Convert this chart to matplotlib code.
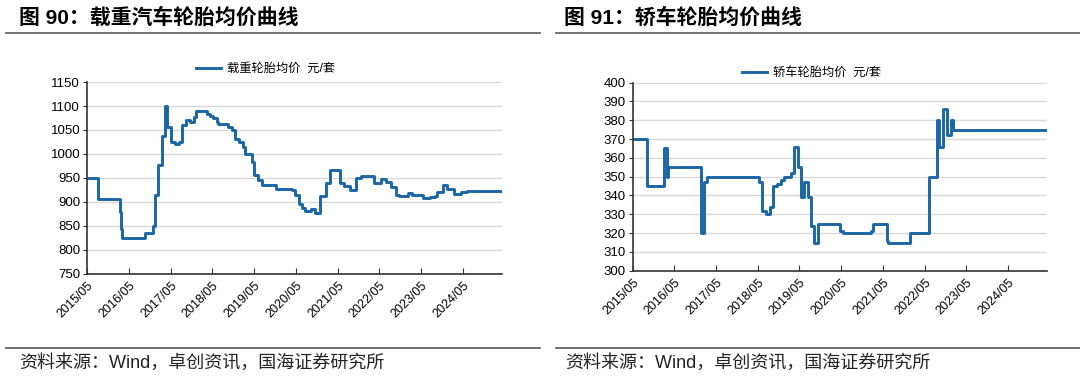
import pandas as pd
import matplotlib
matplotlib.use("Agg")
import matplotlib.pyplot as plt
import matplotlib.dates as mdates
from matplotlib.lines import Line2D

plt.rcParams['font.family'] = ['Liberation Sans', 'Noto Sans CJK SC']

# heavy truck tyre average price (step changes), yuan/set
truck_dates = ['2015-05-01', '2015-08-03', '2016-02-10', '2016-02-21', '2016-03-01', '2016-09-22',
               '2016-11-28', '2016-12-12', '2017-01-11', '2017-02-15', '2017-03-09', '2017-03-29',
               '2017-05-06', '2017-06-10', '2017-07-16', '2017-08-08', '2017-09-15', '2017-10-20',
               '2017-11-19', '2017-12-10', '2018-03-14', '2018-04-12', '2018-05-04', '2018-06-10',
               '2018-06-24', '2018-09-12', '2018-10-20', '2018-11-19', '2018-12-18', '2019-01-24',
               '2019-02-15', '2019-04-13', '2019-05-04', '2019-06-03', '2019-07-09', '2019-11-11',
               '2020-03-28', '2020-04-27', '2020-05-26', '2020-06-25', '2020-07-24', '2020-09-07',
               '2020-10-20', '2020-11-26', '2021-01-16', '2021-02-28', '2021-05-19', '2021-06-25',
               '2021-08-22', '2021-10-13', '2021-11-19', '2022-03-14', '2022-05-12', '2022-06-25',
               '2022-08-12', '2022-09-21', '2022-10-20', '2023-01-06', '2023-02-12', '2023-04-09',
               '2023-05-22', '2023-07-20', '2023-09-03', '2023-09-17', '2023-11-11', '2023-12-14',
               '2024-02-11', '2024-04-16', '2024-06-06', '2024-08-01', '2025-04-12']
truck_vals = [950, 907, 879, 844, 825, 835, 850, 915, 978, 1037, 1100, 1056, 1025, 1020, 1026,
              1060, 1070, 1066, 1077, 1089, 1084, 1079, 1074, 1067, 1062, 1056, 1049, 1032, 1026,
              1015, 999, 983, 956, 945, 935, 928, 926, 915, 896, 888, 882, 885, 878, 912, 940,
              966, 940, 934, 926, 950, 955, 940, 948, 941, 931, 914, 912, 919, 915, 914, 908,
              910, 913, 920, 936, 927, 917, 920, 922, 923, 923]

# passenger car tyre average price (step changes), yuan/set
car_dates = ['2015-05-01', '2015-09-01', '2016-02-03', '2016-03-01', '2016-03-07', '2016-12-19',
             '2017-01-14', '2017-02-13', '2018-05-11', '2018-06-10', '2018-07-09', '2018-08-15',
             '2018-09-14', '2018-10-20', '2018-11-19', '2018-12-18', '2019-02-15', '2019-03-14',
             '2019-04-16', '2019-05-11', '2019-06-14', '2019-07-13', '2019-08-08', '2019-09-07',
             '2019-10-09', '2020-04-16', '2020-05-15', '2021-01-13', '2021-02-01', '2021-06-03',
             '2021-06-17', '2021-12-25', '2022-06-10', '2022-08-15', '2022-09-07', '2022-10-06',
             '2022-11-12', '2022-12-18', '2023-01-06', '2025-04-01']
car_vals = [370, 345, 365, 350, 355, 320, 347, 350, 347, 332, 330, 334, 345, 346, 348, 350, 352,
            366, 355, 339, 347, 339, 324, 315, 325, 321, 320, 321, 325, 316, 315, 320, 350, 380,
            366, 386, 372, 380, 375, 375]

tick_dates = ['2015-05-01', '2016-05-01', '2017-05-01', '2018-05-01', '2019-05-01',
              '2020-05-01', '2021-05-01', '2022-05-01', '2023-05-01', '2024-05-01']

titles = ['图 90：载重汽车轮胎均价曲线', '图 91：轿车轮胎均价曲线']
labels = ['载重轮胎均价  元/套', '轿车轮胎均价  元/套']
source = '资料来源：Wind，卓创资讯，国海证券研究所'

blue = '#1a66a6'

fig = plt.figure(figsize=(10.8, 3.83), dpi=100)


def draw(rect, dates, vals, yticks, label, leg_xy):
    ax = fig.add_axes(rect)
    ax.plot(pd.to_datetime(dates), vals, drawstyle='steps-post', color=blue, lw=2.1,
            label=label)
    ax.set_xlim(pd.Timestamp('2015-05-01'), pd.Timestamp('2025-04-10'))
    ax.set_ylim(yticks[0], yticks[-1])
    ax.set_yticks(yticks)
    ax.set_xticks(pd.to_datetime(tick_dates))
    ax.xaxis.set_major_formatter(mdates.DateFormatter('%Y/%m'))
    for lab in ax.get_xticklabels():
        lab.set_rotation(45)
        lab.set_ha('right')
        lab.set_rotation_mode('anchor')
    ax.tick_params(axis='x', direction='in', length=4, labelsize=9, pad=4, color='#333333')
    ax.tick_params(axis='y', direction='out', length=3, labelsize=9.5, pad=2, color='#333333')
    ax.grid(axis='y', color='#d9d9d9', lw=1.0)
    ax.set_axisbelow(True)
    for s in ['top', 'right']:
        ax.spines[s].set_visible(False)
    for s in ['left', 'bottom']:
        ax.spines[s].set_color('#333333')
        ax.spines[s].set_linewidth(1.2)
    ax.legend(loc='center', bbox_to_anchor=leg_xy, frameon=False, fontsize=8.8,
              handlelength=2.0, handletextpad=0.5)
    return ax


draw([0.0806, 0.2846, 0.3843, 0.5013], truck_dates, truck_vals,
     list(range(750, 1151, 50)), labels[0], (0.43, 1.068))
draw([0.5858, 0.2932, 0.3839, 0.4909], car_dates, car_vals,
     list(range(300, 401, 10)), labels[1], (0.432, 1.052))

# titles, rules and source notes
for x0, x1, tx, title in [(0.006, 0.5, 0.018, titles[0]), (0.515, 1.0, 0.522, titles[1])]:
    fig.text(tx, 1 - 18 / 383, title, fontsize=15, fontweight='bold', va='center', ha='left')
    fig.add_artist(Line2D([x0, x1], [1 - 33 / 383] * 2, color='#666666', lw=1.3))
    fig.add_artist(Line2D([x0, x1], [1 - 348 / 383] * 2, color='#666666', lw=1.3))
for tx in [0.018, 0.523]:
    fig.text(tx, 1 - 363 / 383, source, fontsize=13, va='center', ha='left', color='#222222')

fig.savefig('out.png', dpi=100)
